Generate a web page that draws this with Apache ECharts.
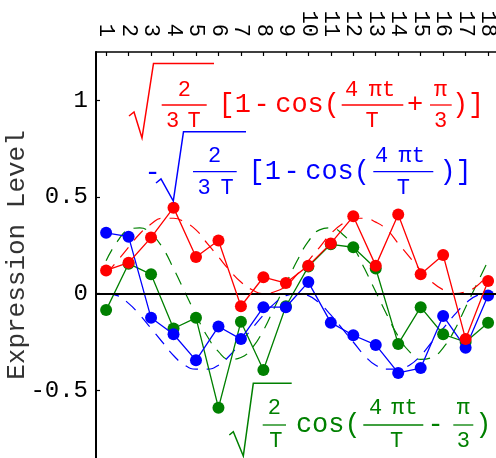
<!DOCTYPE html>
<html>
<head>
<meta charset="utf-8">
<script src="https://cdn.jsdelivr.net/npm/echarts@6/dist/echarts.min.js"></script>
<style>
  html, body { margin: 0; padding: 0; background: #fff; }
  #chart { width: 496px; height: 458px; }
</style>
</head>
<body>
<div id="chart"></div>
<script>
// Sampling times (top axis) and measured expression levels of the three genes
const timePoints = [1, 2, 3, 4, 5, 6, 7, 8, 9, 10, 11, 12, 13, 14, 15, 16, 17, 18];
const redLevels   = [0.12, 0.16, 0.29, 0.445, 0.19, 0.275, -0.065, 0.085, 0.055, 0.145, 0.26, 0.40, 0.145, 0.41, 0.10, 0.20, -0.235, 0.065];
const blueLevels  = [0.315, 0.295, -0.125, -0.21, -0.345, -0.17, -0.235, -0.07, -0.07, 0.06, -0.15, -0.215, -0.265, -0.41, -0.385, -0.115, -0.28, -0.01];
const greenLevels = [-0.085, 0.155, 0.10, -0.18, -0.125, -0.59, -0.145, -0.395, -0.065, 0.14, 0.255, 0.24, 0.13, -0.26, -0.07, -0.21, -0.25, -0.15];

// Model curves (dashed), sampled every half time step
const curveT = [1, 1.5, 2, 2.5, 3, 3.5, 4, 4.5, 5, 5.5, 6, 6.5, 7, 7.5, 8, 8.5, 9, 9.5, 10, 10.5, 11, 11.5, 12, 12.5, 13, 13.5, 14, 14.5, 15, 15.5, 16, 16.5, 17, 17.5, 18];
const redCurve   = [0.10, 0.17, 0.24, 0.31, 0.36, 0.39, 0.39, 0.37, 0.33, 0.26, 0.19, 0.12, 0.06, 0.02, 0.00, 0.01, 0.04, 0.10, 0.17, 0.24, 0.31, 0.36, 0.39, 0.39, 0.37, 0.33, 0.26, 0.19, 0.12, 0.06, 0.02, 0.00, 0.01, 0.04, 0.10];
const blueCurve  = [0.00, -0.01, -0.05, -0.11, -0.18, -0.25, -0.32, -0.37, -0.39, -0.39, -0.37, -0.32, -0.25, -0.18, -0.11, -0.05, -0.01, 0.00, -0.01, -0.05, -0.11, -0.18, -0.25, -0.32, -0.37, -0.39, -0.39, -0.37, -0.32, -0.25, -0.18, -0.11, -0.05, -0.01, 0.00];
const greenCurve = [0.17, 0.27, 0.33, 0.34, 0.31, 0.24, 0.13, 0.01, -0.11, -0.22, -0.30, -0.34, -0.33, -0.28, -0.19, -0.07, 0.05, 0.17, 0.27, 0.33, 0.34, 0.31, 0.24, 0.13, 0.01, -0.11, -0.22, -0.30, -0.34, -0.33, -0.28, -0.19, -0.07, 0.05, 0.17];

const yTickValues = [-0.5, 0, 0.5, 1];

const RED = '#ff0000', BLUE = '#0000ff', GREEN = '#008000';
const MONO = '"Liberation Mono", "DejaVu Sans Mono", monospace';

function pairs(xs, ys) { return xs.map((x, i) => [x, ys[i]]); }

// ---- formula annotations (text + fraction bars + radical signs) ----
const graphics = [];
function txt(s, x, y, size, color, align) {
  graphics.push({
    type: 'text', x: x, y: y, z: 100,
    style: { text: s, fill: color, font: size + 'px ' + MONO, align: align || 'center', verticalAlign: 'middle' }
  });
}
function bar(x1, x2, y, color) {
  graphics.push({ type: 'line', z: 100, shape: { x1: x1, y1: y, x2: x2, y2: y }, style: { stroke: color, lineWidth: 1.3 } });
}
function radical(points, color) {
  graphics.push({ type: 'polyline', z: 100, shape: { points: points }, style: { stroke: color, lineWidth: 1.5, fill: null } });
}

// red:  sqrt(2/(3T)) [1 - cos(4πt/T + π/3)]
radical([[129, 116], [134, 112], [142, 138], [153.5, 63.5], [214, 63.5]], RED);
txt('2', 184.3, 90, 22, RED); bar(161.7, 206.7, 105, RED); txt('3', 172.5, 121, 22, RED); txt('T', 194, 121, 22, RED);
txt('[1', 218.6, 105, 27, RED, 'left');
txt('-', 261.7, 105, 27, RED);
txt('cos(', 275.2, 105, 27, RED, 'left');
txt('4', 351.7, 90, 22, RED); txt('πt', 382, 90, 22, RED); bar(341.7, 403.3, 105, RED); txt('T', 372, 121, 22, RED);
txt('+', 415, 105, 27, RED);
txt('π', 440.5, 90, 22, RED); bar(430, 451.7, 105, RED); txt('3', 440.5, 121, 22, RED);
txt(')]', 451.9, 105, 27, RED, 'left');

// blue:  -sqrt(2/(3T)) [1 - cos(4πt/T)]
txt('-', 152.5, 173, 27, BLUE);
radical([[156, 183], [161, 179], [173.3, 201], [183.5, 131.7], [246, 131.7]], BLUE);
txt('2', 214.5, 156, 22, BLUE); bar(193, 236.7, 171.7, BLUE); txt('3', 204, 188, 22, BLUE); txt('T', 227, 188, 22, BLUE);
txt('[1', 248.6, 171.7, 27, BLUE, 'left');
txt('-', 291.7, 171.7, 27, BLUE);
txt('cos(', 305.2, 171.7, 27, BLUE, 'left');
txt('4', 381.7, 156, 22, BLUE); txt('πt', 411.7, 156, 22, BLUE); bar(373.3, 433.3, 171.7, BLUE); txt('T', 403.3, 188, 22, BLUE);
txt(')]', 439.4, 171.7, 27, BLUE, 'left');

// green:  sqrt(2/T) cos(4πt/T - π/3)
radical([[229.3, 435], [233.3, 431.7], [243.3, 456], [253.3, 383.3], [291.7, 383.3]], GREEN);
txt('2', 274.3, 408, 22, GREEN); bar(262.7, 286, 425, GREEN); txt('T', 275.8, 441.5, 22, GREEN);
txt('cos(', 295.9, 425, 27, GREEN, 'left');
txt('4', 375.7, 408, 22, GREEN); txt('πt', 404.5, 408, 22, GREEN); bar(363.3, 423.3, 425, GREEN); txt('T', 396.7, 441.5, 22, GREEN);
txt('-', 435.7, 425, 27, GREEN);
txt('π', 463.3, 408, 22, GREEN); bar(453.3, 473.3, 425, GREEN); txt('3', 463.3, 441.5, 22, GREEN);
txt(')', 483.3, 425, 27, GREEN);

function dashed(data, color) {
  return {
    type: 'line', data: data, smooth: true, showSymbol: false, silent: true,
    lineStyle: { color: color, width: 1.2, type: [13, 9] }, z: 2
  };
}
function measured(data, color, z) {
  return {
    type: 'line', data: data, symbol: 'circle', symbolSize: 12, silent: true,
    itemStyle: { color: color }, lineStyle: { color: color, width: 1.3 }, z: z
  };
}

const chart = echarts.init(document.getElementById('chart'), null, { renderer: 'canvas' });
chart.setOption({
  animation: false,
  backgroundColor: '#ffffff',
  grid: { left: 96, top: 52, width: 402.2, bottom: 0, containLabel: false, outerBoundsMode: 'none' },
  xAxis: {
    type: 'value', position: 'top', min: 0.55, max: 18.45,
    axisLine: { show: true, onZero: false, lineStyle: { color: '#000', width: 1.5 } },
    axisTick: { show: true, inside: true, length: 4, customValues: timePoints, lineStyle: { color: '#000', width: 1.2 } },
    axisLabel: { show: true, customValues: timePoints, rotate: 90, margin: 15, color: '#000', fontSize: 22, fontFamily: MONO },
    splitLine: { show: false }
  },
  yAxis: {
    type: 'value', min: -0.85, max: 1.25,
    name: 'Expression Level', nameLocation: 'middle', nameGap: 66, nameMoveOverlap: false,
    nameTextStyle: { color: '#333', fontSize: 26, fontFamily: MONO },
    axisLine: { show: true, onZero: false, lineStyle: { color: '#000', width: 2 } },
    axisTick: { show: true, inside: true, length: 4, customValues: yTickValues, lineStyle: { color: '#000', width: 1.2 } },
    axisLabel: { show: true, customValues: yTickValues, margin: 8, color: '#000', fontSize: 24, fontFamily: MONO },
    splitLine: { show: false }
  },
  series: [
    Object.assign(dashed(pairs(curveT, greenCurve), GREEN), {
      markLine: {
        silent: true, symbol: ['none', 'none'], label: { show: false },
        lineStyle: { color: '#000', width: 2, type: 'solid' },
        data: [{ yAxis: 0 }]
      }
    }),
    dashed(pairs(curveT, blueCurve), BLUE),
    dashed(pairs(curveT, redCurve), RED),
    measured(pairs(timePoints, greenLevels), GREEN, 3),
    measured(pairs(timePoints, blueLevels), BLUE, 4),
    measured(pairs(timePoints, redLevels), RED, 5)
  ],
  graphic: { elements: graphics }
});
</script>
</body>
</html>
